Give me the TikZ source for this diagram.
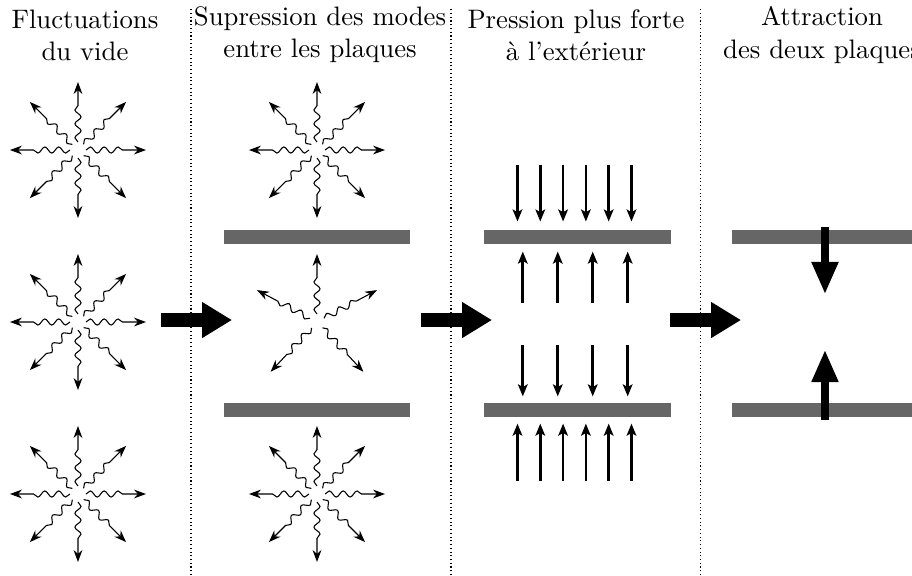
\documentclass[tikz,border=0pt]{standalone}
\usetikzlibrary{arrows.meta,decorations.pathmorphing,calc}

\begin{document}
\begin{tikzpicture}[
  titre/.style={align=center},
  separation/.style={densely dotted, thin},
  plaque/.style={fill=black!60, inner sep=0pt, minimum width=2.45cm, minimum height=0.184cm},
  mode/.style={decorate, decoration={snake, segment length=5.2pt, amplitude=1.15pt, post length=6.5pt},
    -{Stealth[length=4.5pt,width=3.3pt]}},
  force/.style={line width=1pt, -{Stealth[length=4.5pt,width=3.6pt,inset=1pt]}},
  etape/.style={line width=5.2pt, -{Triangle[length=11.2pt,width=12.7pt]}},
  attraction/.style={line width=3.3pt, -{Triangle[length=12.2pt,width=9.3pt]}}
  ]
  \useasboundingbox (0,0) rectangle (12,7.566);
  \clip (0,0) rectangle (12,7.566);

  % titres des etapes
  \node[titre] (t1) at (1.118,7.105) {Fluctuations\\du vide};
  \node[titre] (t2) at (4.211,7.105) {Supression des modes\\entre les plaques};
  \node[titre] (t3) at (7.579,7.105) {Pression plus forte\\à l’extérieur};
  \node[titre] (t4) at (10.816,7.105) {Attraction\\des deux plaques};

  % separations et passage d'une etape a l'autre
  \foreach \d [count=\i] in {2.513,5.934,9.211} {
    \draw[separation] (\d,0) -- (\d,7.46);
    \coordinate (s\i) at (\d,3.355);
    \draw[etape] ([xshift=-0.395cm]s\i) -- ([xshift=0.54cm]s\i);
  }

  % vide libre
  \foreach \y [count=\i] in {5.592,3.329,1.066} {
    \coordinate (v\i) at (1.026,\y);
    \foreach \a in {0,45,...,315}
      \draw[mode] ($(v\i)+(\a:0.105)$) -- ++(\a:0.79);
  }

  % entre les plaques
  \node[plaque] (p2h) at (4.175,4.447) {};
  \node[plaque] (p2b) at (4.175,2.171) {};
  \coordinate (m1) at (4.171,5.592);
  \coordinate (m2) at (4.171,3.329);
  \coordinate (m3) at (4.171,1.066);
  \foreach \c in {m1,m3}
    \foreach \a in {0,45,...,315}
      \draw[mode] ($(\c)+(\a:0.105)$) -- ++(\a:0.79);
  \foreach \a in {90,28,-47,-133,152}
    \draw[mode] ($(m2)+(\a:0.105)$) -- ++(\a:0.79);

  % pression
  \node[plaque] (p3h) at (7.599,4.447) {};
  \node[plaque] (p3b) at (7.599,2.171) {};
  \foreach \x in {-0.79,-0.49,-0.19,0.11,0.41,0.71} {
    \draw[force] ($(p3h.north)+(\x,0.855)$) -- ($(p3h.north)+(\x,0.105)$);
    \draw[force] ($(p3b.south)+(\x,-0.83)$) -- ($(p3b.south)+(\x,-0.08)$);
  }
  \foreach \x in {-0.72,-0.26,0.2,0.66} {
    \draw[force] ($(p3h.south)+(\x,-0.765)$) -- ($(p3h.south)+(\x,-0.092)$);
    \draw[force] ($(p3b.north)+(\x,0.75)$) -- ($(p3b.north)+(\x,0.08)$);
  }

  % attraction
  \node[plaque] (p4h) at (10.855,4.447) {};
  \node[plaque] (p4b) at (10.855,2.171) {};
  \draw[attraction] ([yshift=0.03cm]p4h.north) -- ($(p4h.north)+(0,-0.855)$);
  \draw[attraction] ([yshift=-0.03cm]p4b.south) -- ($(p4b.south)+(0,0.895)$);
\end{tikzpicture}
\end{document}
